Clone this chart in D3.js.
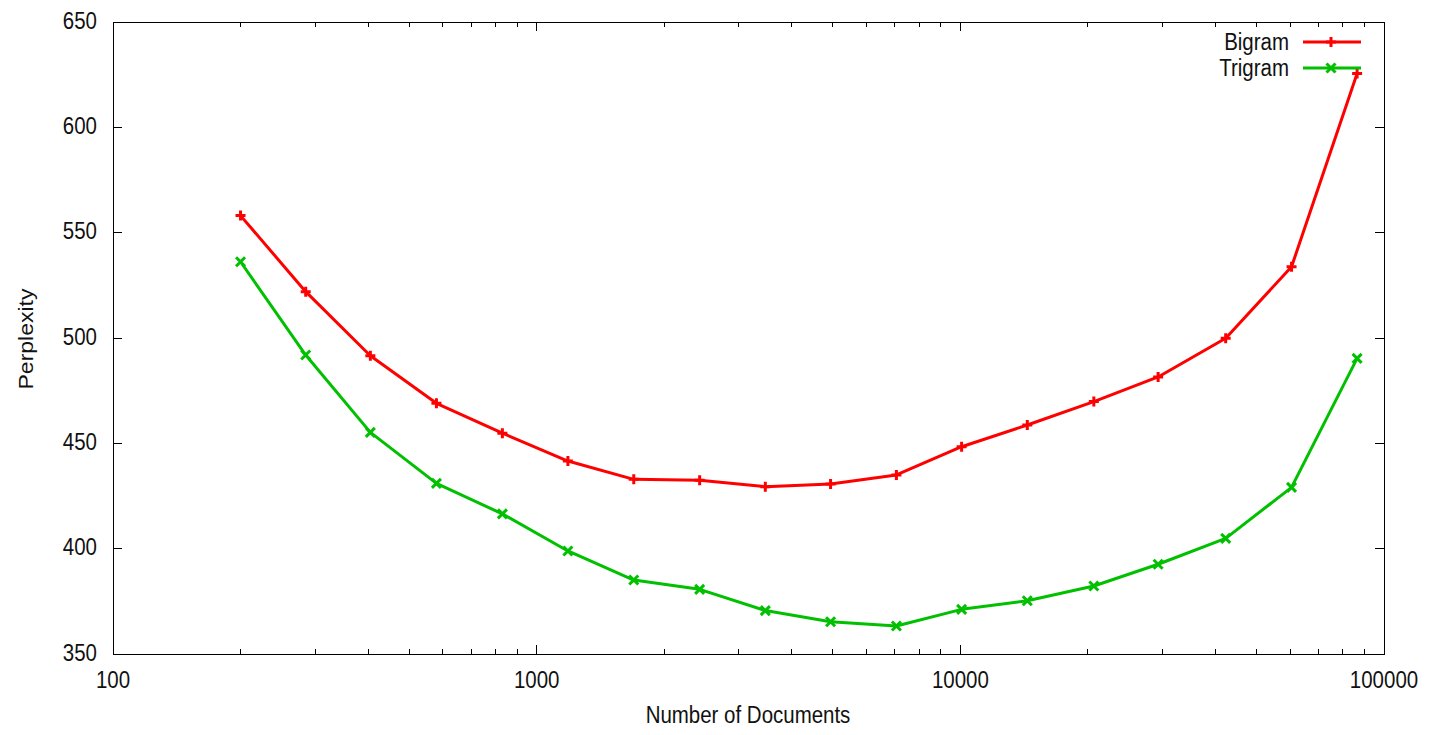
<!DOCTYPE html>
<html><head><meta charset="utf-8">
<script src="https://cdn.jsdelivr.net/npm/d3@7"></script>
<style>body{margin:0;background:#fff;}svg text{font-family:"Liberation Sans",Arial,sans-serif;fill:#111;}</style>
</head><body>
<svg id="chart" width="1431" height="735"></svg>
<script>
const docs = [200, 285, 405, 580, 830, 1185, 1695, 2425, 3465, 4940, 7065, 10070, 14390, 20660, 29300, 42300, 60500, 86400];
const bigram = [558.1, 522.0, 491.6, 469.0, 454.8, 441.6, 432.9, 432.5, 429.4, 430.7, 435.0, 448.4, 458.7, 469.8, 481.5, 499.9, 533.8, 625.6];
const trigram = [536.2, 491.9, 455.2, 431.0, 416.5, 398.9, 385.1, 380.7, 370.6, 365.3, 363.3, 371.2, 375.3, 382.3, 392.6, 404.9, 429.1, 490.3];
const seriesNames = ["Bigram", "Trigram"];
const seriesColors = ["#ff0000", "#00c000"];
const xTicks = [100, 1000, 10000, 100000];
const yTicks = [350, 400, 450, 500, 550, 600, 650];

const svg = d3.select("#chart");
const L = 113, R = 1384, T = 22, B = 654;
const FS = 23, SX = 0.89;
const x = d3.scaleLog().domain([100, 100000]).range([L, R]);
const y = d3.scaleLinear().domain([350, 650]).range([B, T]);

function label(px, py, txt, anchor) {
  return svg.append("text").attr("transform", `translate(${px},${py}) scale(${SX},1)`)
    .attr("text-anchor", anchor).attr("font-size", FS).text(txt);
}

const minor = [];
for (let d = 100; d < 100000; d *= 10) for (let k = 2; k <= 9; k++) minor.push(d * k);

const g = svg.append("g").attr("stroke", "#000").attr("stroke-width", 1).attr("shape-rendering", "crispEdges");
xTicks.forEach(v => {
  g.append("line").attr("x1", x(v)).attr("x2", x(v)).attr("y1", B).attr("y2", B - 9);
  g.append("line").attr("x1", x(v)).attr("x2", x(v)).attr("y1", T).attr("y2", T + 9);
});
minor.forEach(v => {
  g.append("line").attr("x1", x(v)).attr("x2", x(v)).attr("y1", B).attr("y2", B - 5);
  g.append("line").attr("x1", x(v)).attr("x2", x(v)).attr("y1", T).attr("y2", T + 5);
});
yTicks.forEach(v => {
  g.append("line").attr("x1", L).attr("x2", L + 9).attr("y1", y(v)).attr("y2", y(v));
  g.append("line").attr("x1", R).attr("x2", R - 9).attr("y1", y(v)).attr("y2", y(v));
});
g.append("rect").attr("x", L).attr("y", T).attr("width", R - L).attr("height", B - T).attr("fill", "none");

xTicks.forEach(v => label(x(v), 688, String(v), "middle"));
yTicks.forEach(v => label(97, y(v) + 6.5, String(v), "end"));

label(748, 723, "Number of Documents", "middle");
svg.append("text").attr("transform", `translate(33,339) rotate(-90) scale(1,${SX})`)
  .attr("text-anchor", "middle").attr("font-size", FS).text("Perplexity");

function plus(sel, cx, cy, c) {
  const s = 5;
  sel.append("path").attr("d", `M${cx - s},${cy}H${cx + s}M${cx},${cy - s}V${cy + s}`).attr("stroke", c).attr("stroke-width", 3).attr("fill", "none");
}
function cross(sel, cx, cy, c) {
  const s = 4.5;
  sel.append("path").attr("d", `M${cx - s},${cy - s}L${cx + s},${cy + s}M${cx - s},${cy + s}L${cx + s},${cy - s}`).attr("stroke", c).attr("stroke-width", 3).attr("fill", "none");
}

const data = [bigram, trigram];
const line = d3.line().x(d => x(d[0])).y(d => y(d[1]));
data.forEach((vals, i) => {
  const pts = docs.map((d, j) => [d, vals[j]]);
  const sg = svg.append("g");
  sg.append("path").attr("d", line(pts)).attr("fill", "none").attr("stroke", seriesColors[i]).attr("stroke-width", 3).attr("stroke-linejoin", "round");
  pts.forEach(p => (i === 0 ? plus : cross)(sg, x(p[0]), y(p[1]), seriesColors[i]));
  const ly = 42 + i * 26;
  label(1289, ly + 8, seriesNames[i], "end");
  svg.append("line").attr("x1", 1303).attr("x2", 1361).attr("y1", ly).attr("y2", ly).attr("stroke", seriesColors[i]).attr("stroke-width", 3);
  (i === 0 ? plus : cross)(svg, 1331, ly, seriesColors[i]);
});
</script>
</body></html>
